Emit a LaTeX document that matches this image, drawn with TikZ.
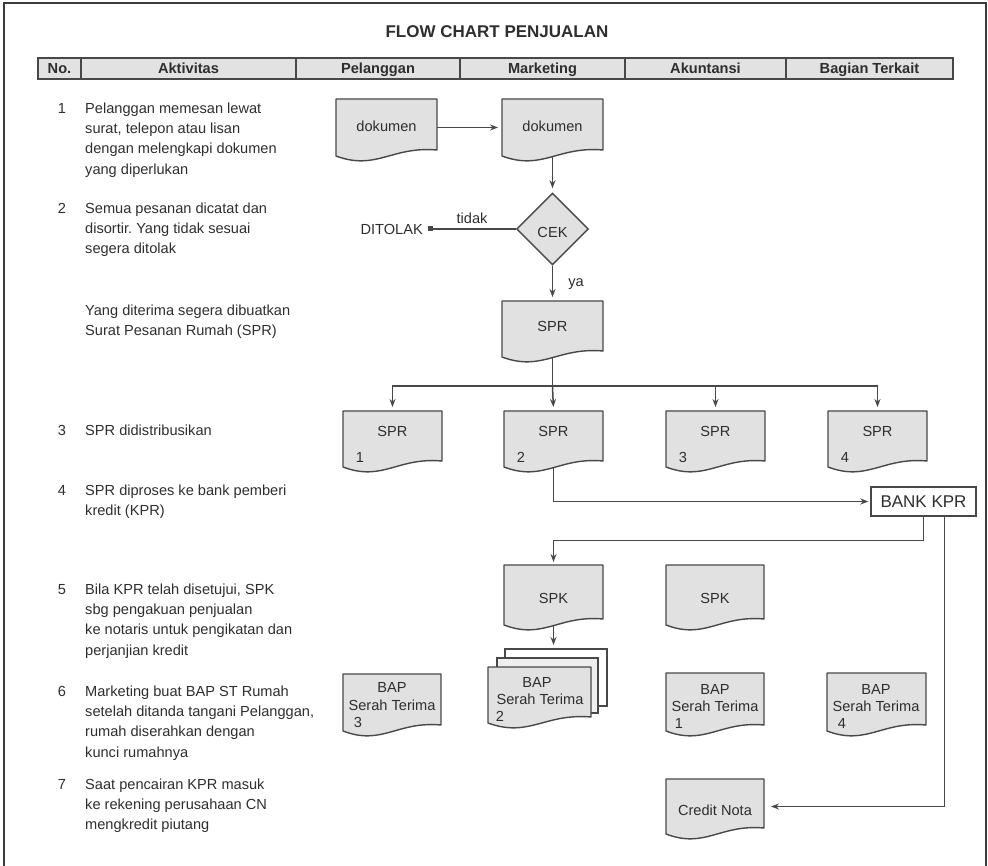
\documentclass[tikz,border=0pt]{standalone}
\usepackage{fontspec}
\setmainfont{Liberation Sans}
\usetikzlibrary{shapes.geometric,arrows.meta}
\frenchspacing

\definecolor{ink}{HTML}{2E2E2E}
\definecolor{lineC}{HTML}{484848}
\definecolor{frameC}{HTML}{3C3C3C}
\definecolor{docfill}{HTML}{E1E1E1}
\definecolor{midsheet}{HTML}{EFEFEF}
\definecolor{headfill}{HTML}{E2E2E2}

\tikzset{
  docedge/.style={draw=lineC, line width=1.4pt, line join=round},
  docbox/.style={anchor=north west, inner sep=0pt, outer sep=0pt},
  lbl/.style={text=ink, inner sep=0pt, font=\fontsize{14.6}{17}\selectfont,
    text height=10.5pt, text depth=0pt},
  steptxt/.style={text=ink, inner sep=0pt, anchor=north west, align=left,
    font=\fontsize{14.6}{20.3}\selectfont},
  headcell/.style={draw=lineC, fill=headfill, line width=1.6pt, inner sep=0pt,
    minimum height=21pt, text=ink, font=\bfseries\fontsize{14.6}{17}\selectfont,
    text height=10.5pt, text depth=0pt},
  conn/.style={draw=lineC, line width=1.5pt},
  arr/.style={conn, -{Stealth[length=8pt,width=6pt]}, shorten >=4pt},
}

% document symbol: flat top, wavy bottom; #1 fill, #2 name, #3 x0, #4 y0, #5 width, #6 height at right edge
\newcommand{\docnode}[6][docfill]{%
  \filldraw[docedge, fill=#1] (#3,#4) -- ({#3+#5},#4) -- ({#3+#5},{#4+#6})
    .. controls ({#3+0.55*#5},{#4+#6-4}) and ({#3+0.4*#5},{#4+#6+21}) .. (#3,{#4+#6+6}) -- cycle;
  \node[docbox, minimum width={#5*1pt}, minimum height={(#6+6)*1pt}] (#2) at (#3,#4) {};
}

% numbered step text in the left columns; #1 name, #2 number, #3 first line centre, #4 text
\newcommand{\stepitem}[4]{%
  \node[steptxt] (t#1) at (85,{#3-9.2}) {\strut #4};
  \node[steptxt, anchor=north] (n#1) at (62,{#3-9.2}) {\strut #2};
}

\begin{document}
\begin{tikzpicture}[x=1pt,y=-1pt]
\useasboundingbox (0,0) rectangle (988,866);

% outer frame
\draw[frameC, line width=2pt] (4,870) -- (4,3) -- (986,3) -- (986,870);

% title
\node[text=ink, inner sep=0pt, font=\bfseries\fontsize{17}{20}\selectfont] (title) at (497,32) {FLOW CHART PENJUALAN};

% table header
\node[headcell, minimum width=43pt]  (hNo)  at (59.5,68.5)  {No.};
\node[headcell, minimum width=215pt] (hAkt) at (188.5,68.5) {Aktivitas};
\node[headcell, minimum width=164pt] (hPel) at (378,68.5)   {Pelanggan};
\node[headcell, minimum width=165pt] (hMkt) at (542.5,68.5) {Marketing};
\node[headcell, minimum width=161pt] (hAku) at (705.5,68.5) {Akuntansi};
\node[headcell, minimum width=167pt] (hBag) at (869.5,68.5) {Bagian Terkait};

% activity descriptions
\stepitem{1}{1}{108}{Pelanggan memesan lewat\\surat, telepon atau lisan\\dengan melengkapi dokumen\\yang diperlukan}
\stepitem{2}{2}{208}{Semua pesanan dicatat dan\\disortir. Yang tidak sesuai\\segera ditolak}
\node[steptxt] (tSPR) at (85,{310-9.2}) {\strut Yang diterima segera dibuatkan\\Surat Pesanan Rumah (SPR)};
\stepitem{3}{3}{430}{SPR didistribusikan}
\stepitem{4}{4}{490}{SPR diproses ke bank pemberi\\kredit (KPR)}
\stepitem{5}{5}{589}{Bila KPR telah disetujui, SPK\\sbg pengakuan penjualan\\ke notaris untuk pengikatan dan\\perjanjian kredit}
\stepitem{6}{6}{691}{Marketing buat BAP ST Rumah\\setelah ditanda tangani Pelanggan,\\rumah diserahkan dengan\\kunci rumahnya}
\stepitem{7}{7}{784}{Saat pencairan KPR masuk\\ke rekening perusahaan CN\\mengkredit piutang}

% order documents
\docnode{docA}{336}{99}{101}{51}
\node[lbl] at (386.5,126) {dokumen};
\docnode{docB}{502}{99}{101}{51}
\node[lbl] at (552.5,126) {dokumen};

% check
\node[diamond, draw=lineC, fill=docfill, line width=1.4pt, minimum width=72pt, minimum height=72pt,
  inner sep=0pt, text=ink, font=\fontsize{14.6}{17}\selectfont, text height=18pt, text depth=0pt] (cek) at (552.5,229) {CEK};
\node[fill=lineC, inner sep=0pt, minimum size=5pt] (rejsq) at (430,229) {};
\node[lbl, anchor=east] (ditolak) at (423,229) {DITOLAK};
\node[lbl] (lbltidak) at (472,218) {tidak};
\node[lbl] (lblya) at (576,281) {ya};

% order letter
\docnode{sprM}{502}{301}{101}{50}
\node[lbl] at (552.5,326) {SPR};

% distributed copies
\docnode{spr1}{343}{411}{99}{50}
\node[lbl] at (392.5,431) {SPR};
\node[lbl] at (360,457) {1};
\docnode{spr2}{504}{411}{99}{50}
\node[lbl] at (553.5,431) {SPR};
\node[lbl] at (521,457) {2};
\docnode{spr3}{666}{411}{99}{50}
\node[lbl] at (715.5,431) {SPR};
\node[lbl] at (683,457) {3};
\docnode{spr4}{828}{411}{99}{50}
\node[lbl] at (877.5,431) {SPR};
\node[lbl] at (845,457) {4};

% bank
\node[draw=lineC, fill=white, line width=1.4pt, minimum width=105pt, minimum height=29pt, inner sep=0pt,
  text=ink, font=\fontsize{17}{20}\selectfont] (bank) at (923.5,501.5) {BANK KPR};

% sales agreement
\docnode{spkM}{504}{565}{99}{54}
\node[lbl] at (553.5,598) {SPK};
\docnode{spkA}{666}{565}{98}{54}
\node[lbl] at (715,598) {SPK};

% handover minutes, several copies
\node[docbox, draw=lineC, fill=white, line width=1.4pt, minimum width=102pt, minimum height=57pt] (stackback) at (505,649) {};
\node[docbox, draw=lineC, fill=midsheet, line width=1.4pt, minimum width=101pt, minimum height=55pt] (stackmid) at (497,658) {};
\docnode{bap2}{488}{667}{103}{50}
\node[lbl] at (537,682) {BAP};
\node[lbl] at (540,699) {Serah Terima};
\node[lbl] at (500,716) {2};

\docnode{bap3}{343}{674}{98}{51}
\node[lbl] at (392,687) {BAP};
\node[lbl] at (392,705) {Serah Terima};
\node[lbl] at (358,722) {3};

\docnode{bap1}{666}{673}{98}{52}
\node[lbl] at (715,689) {BAP};
\node[lbl] at (715,706) {Serah Terima};
\node[lbl] at (679,723) {1};

\docnode{bap4}{827}{673}{99}{52}
\node[lbl] at (876,689) {BAP};
\node[lbl] at (876,706) {Serah Terima};
\node[lbl] at (842,723) {4};

% credit note
\docnode{cn}{666}{779}{98}{49}
\node[lbl] at (715,810) {Credit Nota};

% connectors
\draw[arr] (docA.east) -- (docB.west);
\draw[arr] (docB.south) -- (cek.north);
\draw[conn] (cek.west) -- (rejsq);
\draw[arr] (cek.south) -- (sprM.north);
\coordinate (branch) at (552.5,386);
\draw[conn] (sprM.south) -- (branch);
\draw[arr] (branch) -| (spr1.north);
\draw[arr] (branch) -- (spr2.north);
\draw[arr] (branch) -| (spr3.north);
\draw[arr] (branch) -| (spr4.north);
\draw[arr, shorten >=2pt] (spr2.south) |- (bank.west);
\draw[arr, shorten >=3pt] (bank.south) -- ++(0,24) -| (spkM.north);
\draw[arr] (spkM.south) -- (spkM.south |- stackback.north);
\draw[arr, shorten >=7pt] ([xshift=21pt]bank.south) |- (cn.east);

\end{tikzpicture}
\end{document}
